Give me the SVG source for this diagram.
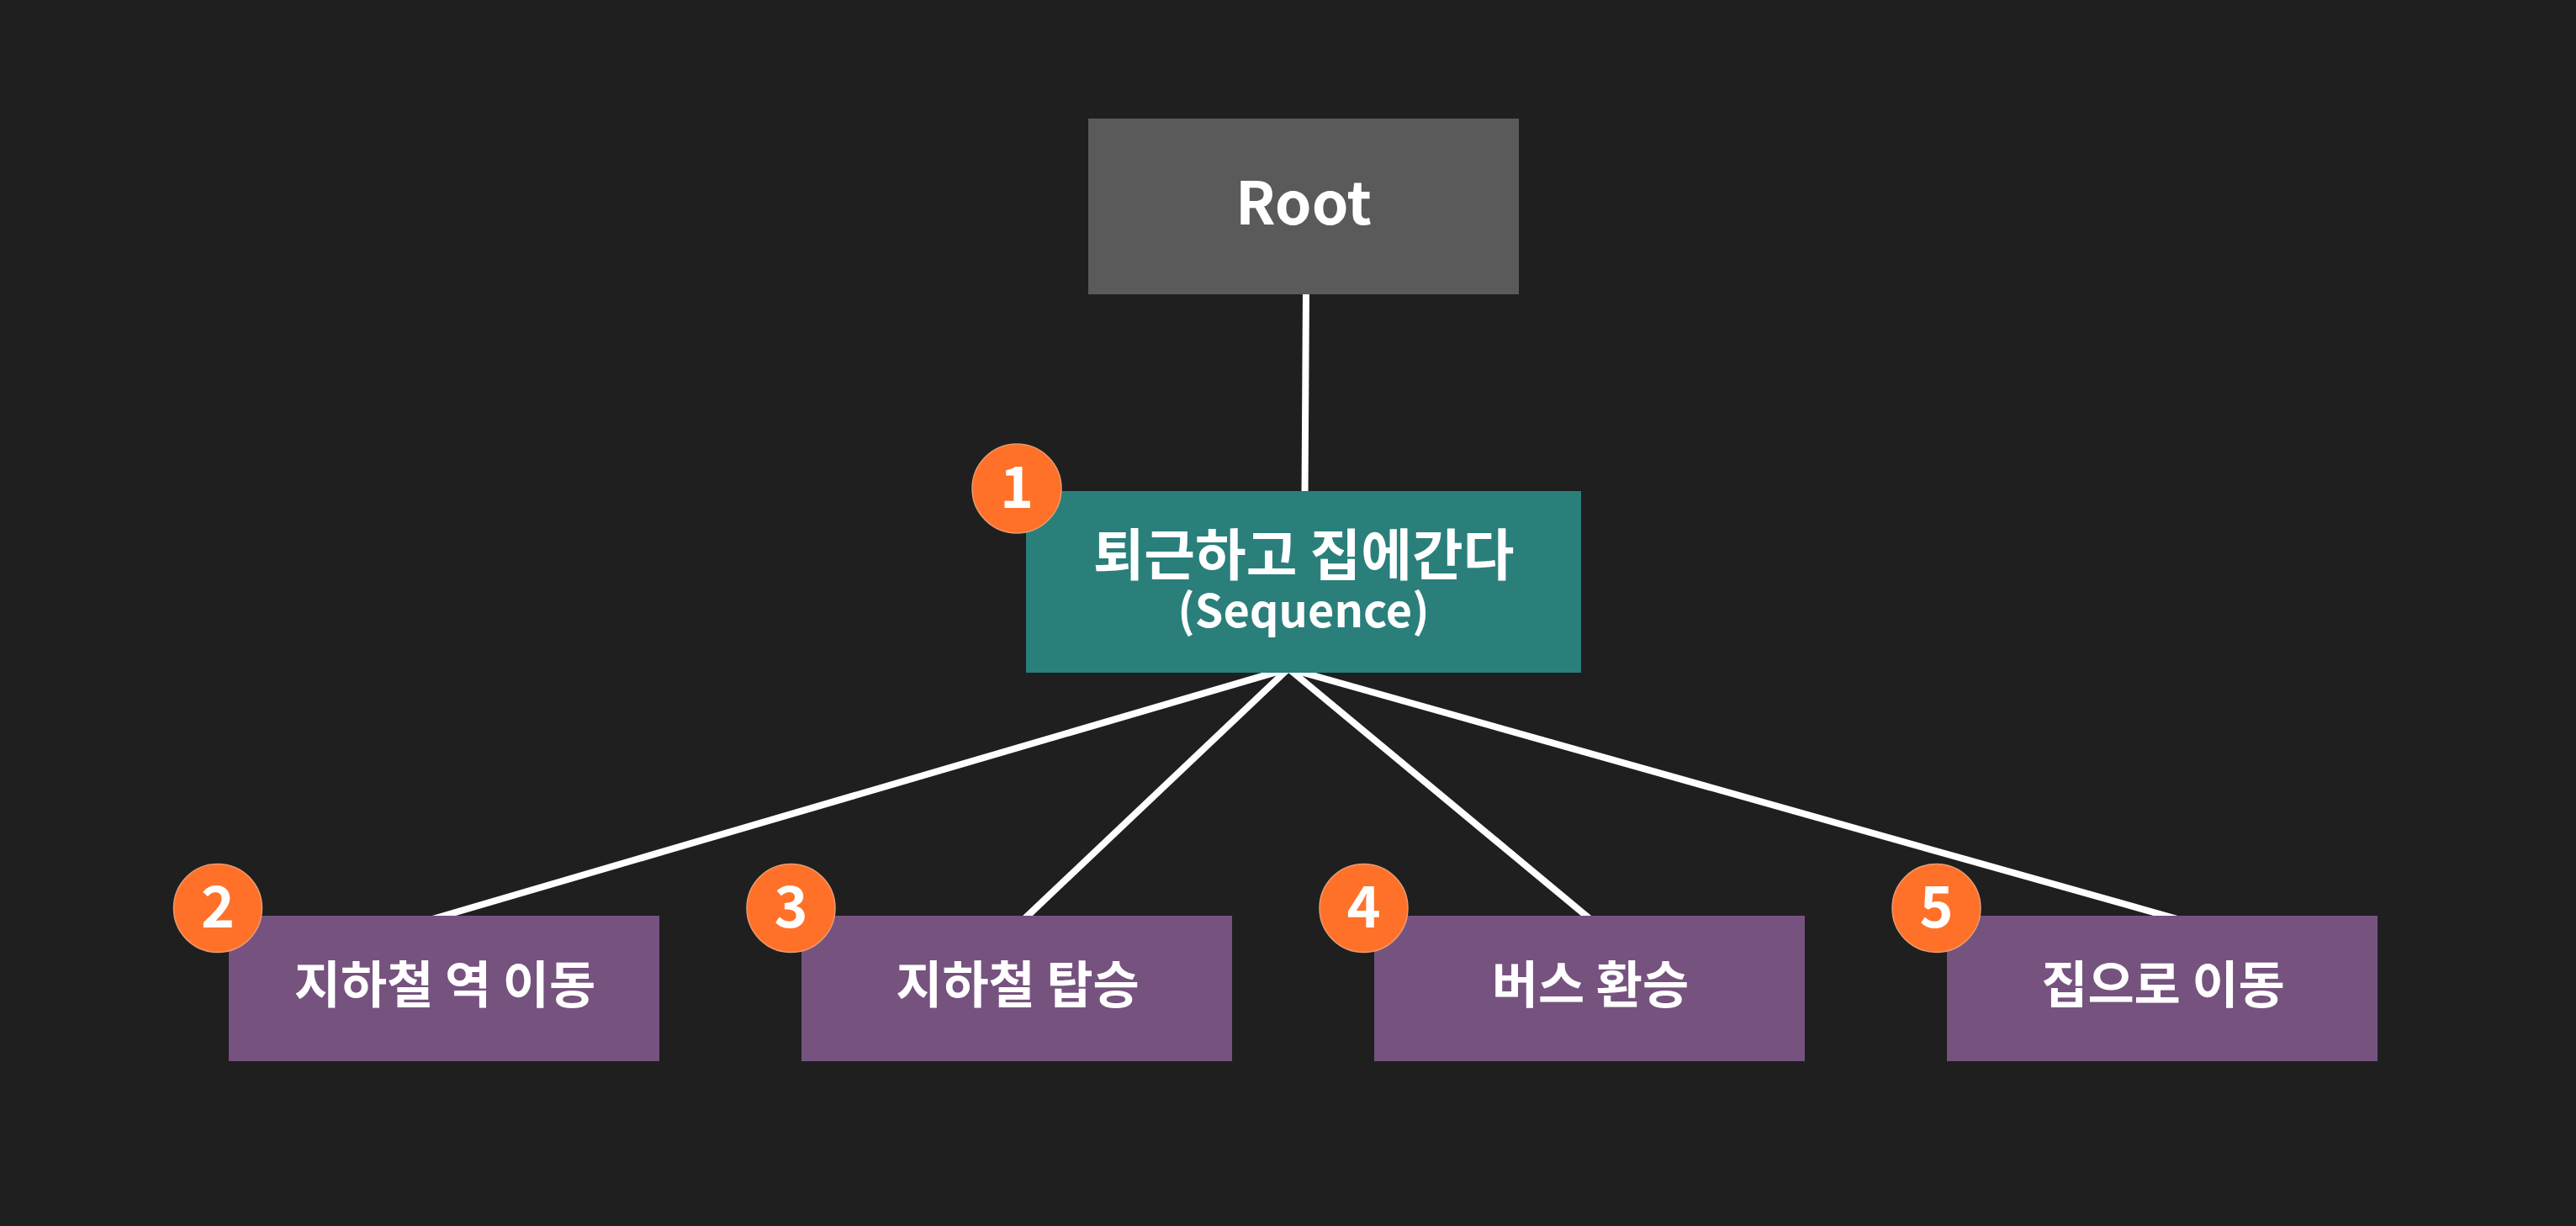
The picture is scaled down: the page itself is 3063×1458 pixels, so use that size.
<svg xmlns="http://www.w3.org/2000/svg" width="3063" height="1458" viewBox="0 0 3063 1458">
<style>
.bg{fill:#1f1f1f}
.link{stroke:#ffffff;stroke-width:8;fill:none}
.root{fill:#5a5a5a}
.seq{fill:#2a7f7b}
.act{fill:#76527f}
.badge{fill:#ff7129;stroke:#e99a6f;stroke-width:1.5}
text{font-family:"Noto Sans CJK KR","Noto Sans",sans-serif;font-weight:700;fill:#ffffff;text-anchor:middle}
.t-root{font-size:70px}
.t-seq{font-size:66px}
.t-seq2{font-size:54px}
.t-act{font-size:60px}
.t-num{font-size:68px}
</style>
<rect class="bg" x="0" y="0" width="3063" height="1458"/>
<g id="connectors">
<line class="link" x1="1553" y1="345" x2="1551.5" y2="590"/>
<line class="link" x1="1532" y1="795" x2="507.5" y2="1095"/>
<line class="link" x1="1532" y1="795" x2="1215.7" y2="1095"/>
<line class="link" x1="1532" y1="795" x2="1893.2" y2="1095"/>
<line class="link" x1="1532" y1="795" x2="2596.3" y2="1095"/>
</g>
<g id="root">
<rect class="root" x="1294" y="141" width="512" height="209"/>
<text class="t-root" x="1550" y="267">Root</text>
</g>
<g id="sequence">
<rect class="seq" x="1220" y="584" width="660" height="216"/>
<text class="t-seq" x="1550" y="684">퇴근하고 집에간다</text>
<text class="t-seq2" x="1550" y="746">(Sequence)</text>
<circle class="badge" cx="1209" cy="581" r="53"/>
<text class="t-num" x="1209" y="604">1</text>
</g>
<g id="step2">
<rect class="act" x="272" y="1089" width="512" height="173"/>
<text class="t-act" x="529" y="1193">지하철 역 이동</text>
<circle class="badge" cx="259" cy="1080" r="52.5"/>
<text class="t-num" x="259" y="1103">2</text>
</g>
<g id="step3">
<rect class="act" x="953" y="1089" width="512" height="173"/>
<text class="t-act" x="1210" y="1193">지하철 탑승</text>
<circle class="badge" cx="940.5" cy="1080" r="52.5"/>
<text class="t-num" x="940.5" y="1103">3</text>
</g>
<g id="step4">
<rect class="act" x="1634" y="1089" width="512" height="173"/>
<text class="t-act" x="1891" y="1193">버스 환승</text>
<circle class="badge" cx="1621.5" cy="1080" r="52.5"/>
<text class="t-num" x="1621.5" y="1103">4</text>
</g>
<g id="step5">
<rect class="act" x="2315" y="1089" width="512" height="173"/>
<text class="t-act" x="2572" y="1193">집으로 이동</text>
<circle class="badge" cx="2302.5" cy="1080" r="52.5"/>
<text class="t-num" x="2302.5" y="1103">5</text>
</g>
</svg>
